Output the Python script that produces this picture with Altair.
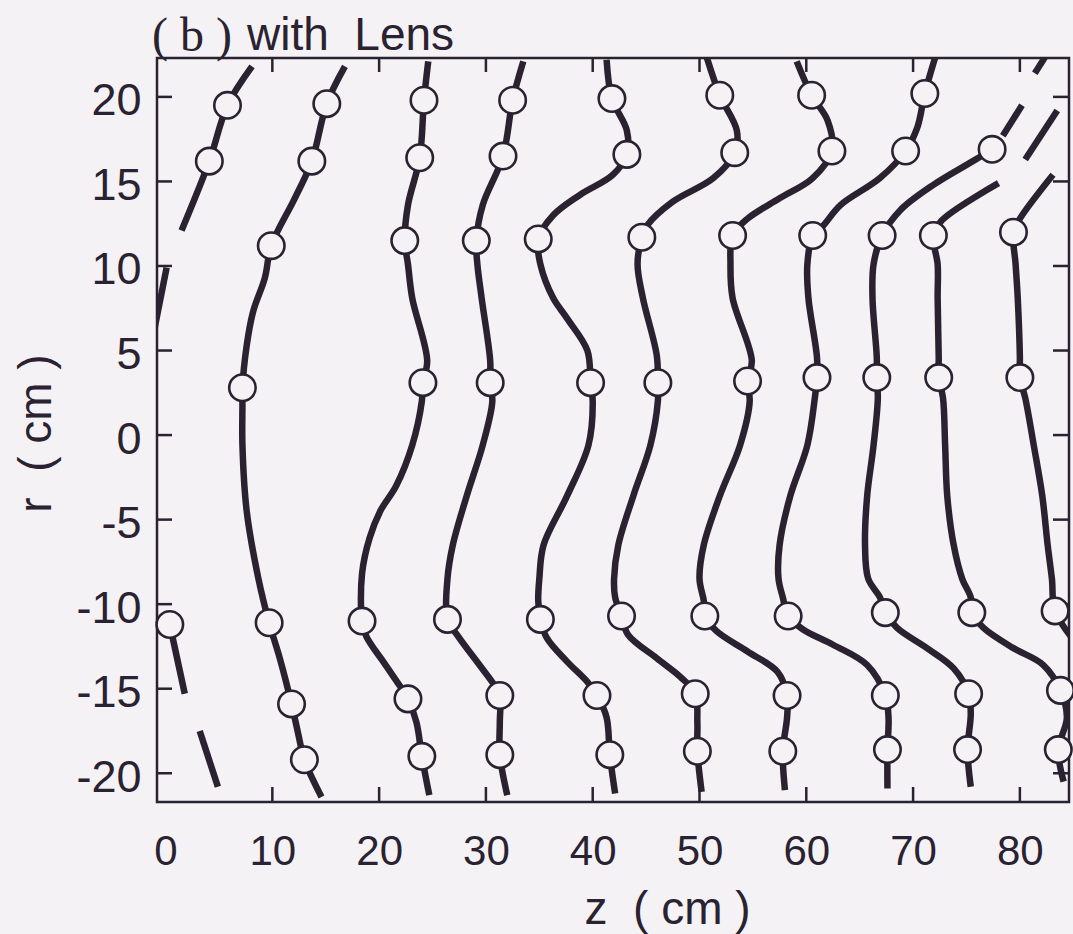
import altair as alt
import pandas as pd

INK = "#2a2230"
PAPER = "#f4f2f5"
NB = "\u00a0"  # non-breaking space keeps the wide gaps in SVG text

# ---------------- wavefront traces: z (cm) and r (cm), top to bottom ----------------
# front 0 is drawn as separate broken pieces
f0a_z = [8.1, 5.8, 4.1, 1.5]
f0a_r = [21.8, 19.5, 16.2, 12.1]
f0b_z = [0.1, -1.0]
f0b_r = [9.9, 6.4]
f0c_z = [0.4, 1.8]
f0c_r = [-11.2, -15.3]
f0d_z = [3.2, 4.9]
f0d_r = [-17.5, -20.8]

f1_z = [16.8, 15.1, 13.7, 12.1, 9.9, 9.3, 8.2, 7.6, 7.2, 7.2, 7.2, 7.6, 8.7, 9.7, 10.7, 11.8, 12.4, 13.0, 14.6]
f1_r = [21.8, 19.6, 16.2, 14.0, 11.2, 9.3, 7.3, 5.3, 2.8, 1.8, -0.6, -4.5, -8.5, -11.1, -13.2, -15.9, -17.6, -19.2, -21.4]

f2_z = [24.6, 24.2, 23.8, 22.7, 22.4, 22.7, 23.1, 24.5, 24.1, 24.0, 23.1, 21.6, 20.1, 19.1, 18.4, 18.4, 18.8, 20.5, 21.9, 22.7, 23.5, 24.0, 24.7]
f2_r = [22.1, 19.8, 16.4, 13.6, 11.5, 10.1, 8.1, 4.4, 3.1, 2.0, -0.6, -3.0, -4.5, -6.1, -8.2, -11.0, -11.9, -13.5, -14.8, -15.6, -17.0, -19.0, -21.3]

f3_z = [33.5, 32.5, 31.6, 29.7, 29.1, 29.2, 29.6, 30.4, 30.4, 30.6, 29.7, 28.2, 26.9, 26.4, 26.4, 27.4, 29.4, 30.8, 31.3, 31.3, 31.3, 32.0]
f3_r = [22.1, 19.8, 16.5, 13.6, 11.5, 10.1, 8.1, 4.4, 3.1, 2.0, -0.6, -3.6, -6.5, -8.5, -10.9, -11.9, -13.6, -14.8, -15.4, -17.0, -18.9, -21.3]

f4_z = [41.3, 41.8, 43.2, 43.2, 41.9, 38.8, 36.3, 34.9, 35.1, 36.3, 37.6, 39.5, 39.8, 40.0, 39.6, 37.6, 35.4, 35.0, 34.9, 35.1, 35.7, 37.6, 39.5, 40.4, 41.3, 41.6, 42.1]
f4_r = [22.2, 19.9, 18.0, 16.6, 15.4, 14.2, 13.0, 11.6, 10.1, 8.1, 6.9, 5.0, 3.1, 2.0, -0.6, -3.6, -6.5, -8.5, -9.8, -10.9, -12.0, -13.4, -14.6, -15.4, -16.7, -18.9, -21.2]

f5_z = [50.7, 51.9, 53.5, 53.3, 51.3, 47.5, 45.1, 44.6, 44.2, 44.7, 46.0, 46.1, 46.1, 45.4, 43.8, 42.4, 42.0, 42.1, 42.7, 43.3, 46.0, 48.2, 49.6, 49.8, 49.8, 50.2]
f5_r = [22.3, 20.1, 18.0, 16.7, 15.2, 13.8, 12.4, 11.7, 10.1, 8.1, 4.7, 3.1, 2.0, -0.6, -3.6, -6.5, -8.5, -9.6, -10.7, -11.8, -13.2, -14.3, -15.3, -17.0, -18.7, -21.1]

f6_z = [59.1, 60.5, 62.0, 62.4, 60.6, 57.5, 54.5, 53.1, 52.9, 53.1, 54.9, 54.5, 54.7, 53.8, 51.9, 50.4, 50.0, 50.4, 50.5, 51.6, 54.5, 57.3, 58.2, 58.2, 57.8, 58.0]
f6_r = [22.1, 20.1, 18.6, 16.8, 15.2, 14.0, 12.8, 11.8, 10.1, 8.1, 4.4, 3.2, 2.0, -0.6, -3.6, -6.5, -8.5, -9.8, -10.7, -11.6, -12.8, -14.0, -15.4, -16.7, -18.7, -21.0]

f7_z = [72.1, 71.1, 70.4, 69.3, 66.9, 63.2, 61.6, 60.6, 60.1, 60.2, 61.0, 61.0, 60.8, 60.1, 58.5, 57.5, 57.4, 57.8, 58.3, 59.7, 62.5, 65.7, 67.4, 67.7, 67.6, 67.6]
f7_r = [22.4, 20.2, 18.2, 16.8, 15.2, 13.6, 12.4, 11.8, 10.1, 8.1, 4.6, 3.4, 2.2, -0.6, -3.6, -6.5, -8.5, -9.6, -10.7, -11.5, -12.4, -13.6, -15.4, -16.7, -18.6, -20.9]

f8a_z = [81.4, 82.4]
f8a_r = [21.4, 22.4]
f8b_z = [80.2, 78.4]
f8b_r = [19.5, 17.7]
f8_z = [77.4, 75.6, 71.9, 68.8, 67.1, 66.3, 66.2, 66.6, 66.6, 66.7, 66.3, 65.7, 65.5, 65.8, 66.9, 67.4, 68.5, 71.3, 73.8, 75.2, 75.4, 75.1, 75.4]
f8_r = [16.9, 16.2, 14.8, 13.3, 11.8, 10.1, 8.1, 4.6, 3.4, 2.2, -0.6, -3.6, -6.5, -8.5, -9.6, -10.5, -11.4, -12.6, -13.8, -15.3, -16.5, -18.6, -20.8]

f9a_z = [83.5, 80.5]
f9a_r = [19.2, 16.3]
f9_z = [78.0, 72.7, 71.9, 72.3, 72.3, 72.4, 72.4, 72.8, 73.0, 73.2, 73.8, 74.6, 75.4, 75.5, 76.6, 79.4, 82.2, 83.8, 84.4, 83.6, 84.1]
f9_r = [14.9, 12.7, 11.8, 10.1, 8.1, 4.6, 3.4, 2.2, -0.6, -3.6, -6.5, -8.5, -9.6, -10.5, -11.4, -12.6, -13.6, -15.1, -16.7, -18.6, -20.5]

f10_z = [83.1, 80.0, 79.4, 79.6, 79.8, 80.0, 80.0, 80.5, 81.3, 82.1, 82.6, 83.0, 83.3, 85.5]
f10_r = [15.4, 12.8, 12.0, 10.1, 8.1, 4.6, 3.4, 2.2, -0.6, -3.6, -6.5, -8.5, -10.4, -12.5]

# ---------------- measured points (open circles) ----------------
m0_z = [5.8, 4.1, 0.4]
m0_r = [19.5, 16.2, -11.2]
m1_z = [15.1, 13.7, 9.9, 7.2, 9.7, 11.8, 13.0]
m1_r = [19.6, 16.2, 11.2, 2.8, -11.1, -15.9, -19.2]
m2_z = [24.2, 23.8, 22.4, 24.1, 18.4, 22.7, 24.0]
m2_r = [19.8, 16.4, 11.5, 3.1, -11.0, -15.6, -19.0]
m3_z = [32.5, 31.6, 29.1, 30.4, 26.4, 31.3, 31.3]
m3_r = [19.8, 16.5, 11.5, 3.1, -10.9, -15.4, -18.9]
m4_z = [41.8, 43.2, 34.9, 39.8, 35.1, 40.4, 41.6]
m4_r = [19.9, 16.6, 11.6, 3.1, -10.9, -15.4, -18.9]
m5_z = [51.9, 53.3, 44.6, 46.1, 42.7, 49.6, 49.8]
m5_r = [20.1, 16.7, 11.7, 3.1, -10.7, -15.3, -18.7]
m6_z = [60.5, 62.4, 53.1, 54.5, 50.5, 58.2, 57.8]
m6_r = [20.1, 16.8, 11.8, 3.2, -10.7, -15.4, -18.7]
m7_z = [71.1, 69.3, 60.6, 61.0, 58.3, 67.4, 67.6]
m7_r = [20.2, 16.8, 11.8, 3.4, -10.7, -15.4, -18.6]
m8_z = [77.4, 67.1, 66.6, 67.4, 75.2, 75.1]
m8_r = [16.9, 11.8, 3.4, -10.5, -15.3, -18.6]
m9_z = [71.9, 72.4, 75.5, 83.8, 83.6]
m9_r = [11.8, 3.4, -10.5, -15.1, -18.6]
m10_z = [79.4, 80.0, 83.3]
m10_r = [12.0, 3.4, -10.4]

# ---------------- axes ----------------
z_ticks = [0, 10, 20, 30, 40, 50, 60, 70, 80]
r_ticks = [-20, -15, -10, -5, 0, 5, 10, 15, 20]
z_inner_ticks = [10, 20, 30, 40, 50, 60, 70, 80]

pieces = [
    ("f0a", f0a_z, f0a_r), ("f0b", f0b_z, f0b_r), ("f0c", f0c_z, f0c_r), ("f0d", f0d_z, f0d_r),
    ("f1", f1_z, f1_r), ("f2", f2_z, f2_r), ("f3", f3_z, f3_r), ("f4", f4_z, f4_r),
    ("f5", f5_z, f5_r), ("f6", f6_z, f6_r), ("f7", f7_z, f7_r),
    ("f8a", f8a_z, f8a_r), ("f8b", f8b_z, f8b_r), ("f8", f8_z, f8_r),
    ("f9a", f9a_z, f9a_r), ("f9", f9_z, f9_r), ("f10", f10_z, f10_r),
]
line_rows = []
for name, zs, rs in pieces:
    for i, (z, r) in enumerate(zip(zs, rs)):
        line_rows.append({"piece": name, "i": i, "z": z, "r": r})
lines_df = pd.DataFrame(line_rows)

marks = [(m0_z, m0_r), (m1_z, m1_r), (m2_z, m2_r), (m3_z, m3_r), (m4_z, m4_r), (m5_z, m5_r),
         (m6_z, m6_r), (m7_z, m7_r), (m8_z, m8_r), (m9_z, m9_r), (m10_z, m10_r)]
circle_rows = [{"z": z, "r": r} for zs, rs in marks for z, r in zip(zs, rs)]
circles_df = pd.DataFrame(circle_rows)

W, H = 912, 744
FONT = "Liberation Sans"

xs = alt.Scale(domain=[-0.8, 84.6], nice=False, zero=False)
ys = alt.Scale(domain=[-21.7, 22.3], nice=False, zero=False)

x_axis = alt.Axis(
    values=z_ticks, grid=False, domain=False, ticks=False, tickSize=0,
    labelFont=FONT, labelFontSize=42, labelColor=INK, labelPadding=29,
    title=f"z{NB}{NB}({NB}cm{NB})", titleFont=FONT, titleFontSize=46, titleFontWeight="normal",
    titleColor=INK, titleX=510, titleY=121, titleAlign="center", titleBaseline="alphabetic",
)
y_axis = alt.Axis(
    values=r_ticks, grid=False, domain=False, ticks=False, tickSize=0,
    labelFont=FONT, labelFontSize=45, labelColor=INK, labelPadding=16, labelOffset=4,
    labelExpr="'' + datum.value",
    title=f"r{NB}{NB}({NB}cm{NB})", titleFont=FONT, titleFontSize=46, titleFontWeight="normal",
    titleColor=INK, titleX=-107, titleY=375, titleAlign="center", titleBaseline="alphabetic",
    titleAngle=270,
)

X = alt.X("z:Q", scale=xs, axis=x_axis)
Y = alt.Y("r:Q", scale=ys, axis=y_axis)

fronts = alt.Chart(lines_df).mark_line(
    interpolate="catmull-rom", strokeWidth=6.5, color=INK, clip=True, strokeCap="butt"
).encode(x=X, y=Y, detail="piece:N", order="i:Q")

points = alt.Chart(circles_df).mark_point(
    shape="circle", size=700, filled=True, fill=PAPER, stroke=INK,
    strokeWidth=2.6, opacity=1, fillOpacity=1, strokeOpacity=1,
).encode(x=X, y=Y)

rt = pd.DataFrame({"r": r_ticks})
zt = pd.DataFrame({"z": z_inner_ticks})
tick_style = dict(color=INK, strokeWidth=2.5)
left_ticks = alt.Chart(rt).mark_rule(**tick_style).encode(y=Y, x=alt.value(0), x2=alt.value(15))
right_ticks = alt.Chart(rt).mark_rule(**tick_style).encode(y=Y, x=alt.value(W - 16), x2=alt.value(W))
top_ticks = alt.Chart(zt).mark_rule(**tick_style).encode(x=X, y=alt.value(0), y2=alt.value(14))
bottom_ticks = alt.Chart(zt).mark_rule(**tick_style).encode(x=X, y=alt.value(H - 15), y2=alt.value(H))

panel = alt.Chart(pd.DataFrame({"t": [f"({NB}b{NB})"]})).mark_text(
    font="Liberation Serif", fontSize=48, color=INK, align="left", baseline="alphabetic"
).encode(text="t:N", x=alt.value(-5), y=alt.value(-7))
caption = alt.Chart(pd.DataFrame({"t": [f"with{NB}{NB}Lens"]})).mark_text(
    font=FONT, fontSize=46, color=INK, align="left", baseline="alphabetic"
).encode(text="t:N", x=alt.value(90), y=alt.value(-8))

chart = alt.layer(
    left_ticks, right_ticks, top_ticks, bottom_ticks, fronts, points, panel, caption
).properties(
    width=W, height=H,
    autosize=alt.AutoSizeParams(type="none"),
    padding={"left": 157, "top": 58, "right": 4, "bottom": 132},
    background=PAPER,
).configure_view(stroke=INK, strokeWidth=2.5)

chart.save("out.html", embed_options={"renderer": "svg", "actions": False})
